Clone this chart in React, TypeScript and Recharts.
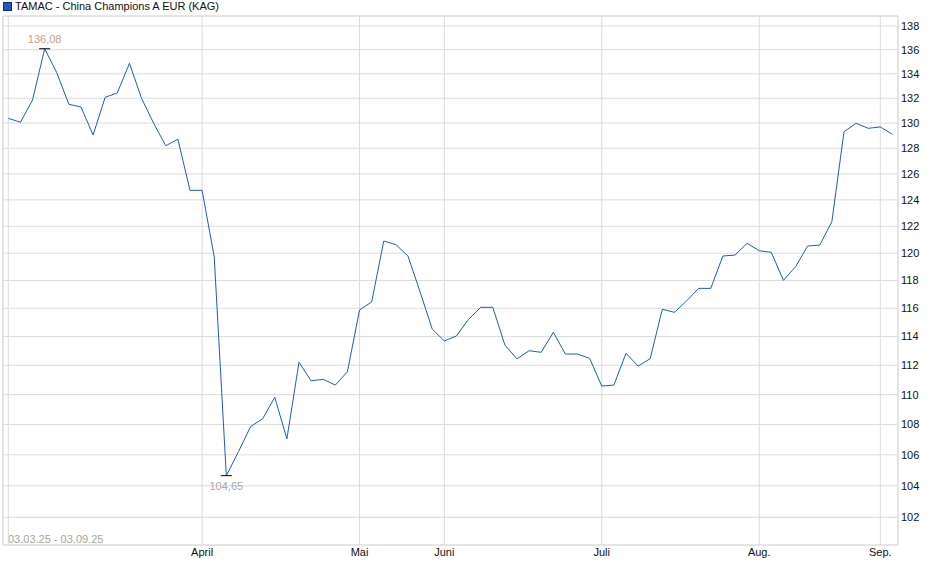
import { CartesianGrid, Line, LineChart, ReferenceLine, XAxis, YAxis } from "recharts"

// fund price, one value per published date (03.03.25 - 03.09.25)
const prices = [
  130.38, 130.06, 131.86, 136.08, 134.09, 131.51, 131.29, 129.05, 132.08, 132.43,
  134.87, 131.99, 129.98, 128.2, 128.71, 124.73, 124.73, 119.74, 104.65, 106.2,
  107.85, 108.38, 109.82, 107.04, 112.21, 110.94, 111.04, 110.65, 111.56, 115.88,
  116.45, 120.9, 120.63, 119.79, 117.17, 114.53, 113.69, 114.04, 115.21, 116.07,
  116.07, 113.41, 112.44, 113.01, 112.9, 114.3, 112.78, 112.78, 112.48, 110.58,
  110.65, 112.83, 111.95, 112.46, 115.93, 115.71, 116.52, 117.43, 117.43, 119.79,
  119.86, 120.73, 120.18, 120.06, 118.01, 119.0, 120.53, 120.6, 122.34, 129.31,
  129.98, 129.58, 129.69, 129.1
]

// index of the first value in each month
const monthTicks = [0, 16, 29, 36, 49, 62, 72]
const monthLabels = ["", "April", "Mai", "Juni", "Juli", "Aug.", "Sep."]

const priceTicks = [
  102, 104, 106, 108, 110, 112, 114, 116, 118, 120,
  122, 124, 126, 128, 130, 132, 134, 136, 138
]

const seriesName = "TAMAC - China Champions A EUR (KAG)"
const rangeLabel = "03.03.25 - 03.09.25"

const X_MIN = -0.44
const X_MAX = 73.46
const Y_MIN = 100.28
const Y_MAX = 138.85

const GRID = "#dcdcdc"
const LINE = "#1c5bc4"
const FONT = "Arial, 'Liberation Sans', sans-serif"

const chartData = prices.map((value, i) => ({ i, value }))
const maxIndex = prices.indexOf(Math.max(...prices))
const minIndex = prices.indexOf(Math.min(...prices))

function formatPrice(value: number) {
  return value.toLocaleString("de-DE", { minimumFractionDigits: 2, maximumFractionDigits: 2 })
}

function formatMonth(value: number) {
  const pos = monthTicks.indexOf(value)
  return pos >= 0 ? monthLabels[pos] : ""
}

type DotProps = {
  cx?: number
  cy?: number
  index?: number
}

function renderDot({ cx, cy, index }: DotProps) {
  const key = `dot-${index}`
  if (cx == null || cy == null || (index !== maxIndex && index !== minIndex)) {
    return <g key={key} />
  }
  const isMax = index === maxIndex
  return (
    <g key={key}>
      <line x1={cx - 5.5} x2={cx + 5.5} y1={cy} y2={cy} stroke="#000" strokeWidth={1} />
      <text
        x={cx}
        y={isMax ? cy - 9 : cy + 11}
        textAnchor="middle"
        dominantBaseline="middle"
        fontSize={11}
        fill={isMax ? "#bba48c" : "#a9a6a2"}
      >
        {formatPrice(prices[index as number])}
      </text>
    </g>
  )
}

export default function App() {
  return (
    <div style={{ position: "absolute", left: 0, top: 0, width: 940, height: 579, fontFamily: FONT }}>
      <div style={{ position: "absolute", left: 3, top: 2, width: 7, height: 7, background: LINE, border: "1px solid #0b2a66" }} />
      <div style={{ position: "absolute", left: 15, top: -1, fontSize: 11, lineHeight: "14px", color: "#111" }}>
        {seriesName}
      </div>
      <div style={{ position: "absolute", left: 8, top: 532, fontSize: 11, lineHeight: "14px", color: "#aaa49d" }}>
        {rangeLabel}
      </div>
      <LineChart
        width={940}
        height={579}
        data={chartData}
        margin={{ top: 16, left: 3, right: 2, bottom: 4 }}
        style={{ fontFamily: FONT }}
      >
        <CartesianGrid stroke={GRID} />
        <ReferenceLine x={X_MIN} stroke={GRID} />
        <ReferenceLine y={Y_MAX} stroke={GRID} />
        <XAxis
          dataKey="i"
          type="number"
          domain={[X_MIN, X_MAX]}
          allowDataOverflow
          ticks={monthTicks}
          tickFormatter={formatMonth}
          interval={0}
          height={30}
          tickLine={false}
          tickSize={1}
          tickMargin={2}
          axisLine={{ stroke: GRID }}
          tick={{ fill: "#111", fontSize: 11 }}
        />
        <YAxis
          orientation="right"
          scale="log"
          type="number"
          domain={[Y_MIN, Y_MAX]}
          allowDataOverflow
          ticks={priceTicks}
          interval={0}
          width={40}
          tickLine={false}
          tickSize={1}
          tickMargin={2}
          axisLine={{ stroke: GRID }}
          tick={{ fill: "#111", fontSize: 11 }}
        />
        <Line
          type="linear"
          dataKey="value"
          stroke={LINE}
          strokeWidth={1}
          dot={renderDot}
          activeDot={false}
          isAnimationActive={false}
        />
      </LineChart>
    </div>
  )
}
